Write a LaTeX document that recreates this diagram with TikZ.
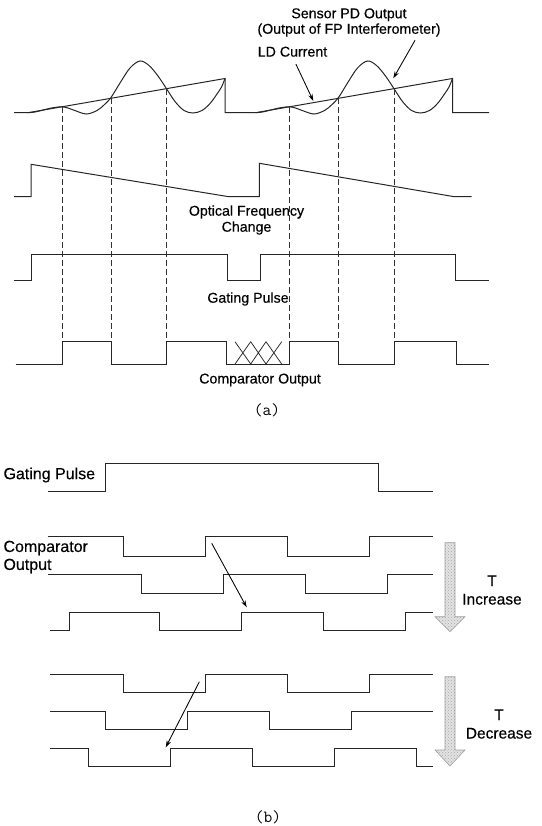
\documentclass[tikz,border=0pt]{standalone}
\usepackage{fontspec}
\setmainfont{Liberation Sans}[FakeBold=0.35]
\usetikzlibrary{arrows.meta,patterns}

\begin{document}
\begin{tikzpicture}[x=1pt,y=-1pt,
  wave/.style={line width=1pt,color=black!85},
  guide/.style={line width=0.75pt,color=black!80,dash pattern=on 6pt off 3pt},
  arr/.style={-{Stealth[length=7pt,width=4.5pt]},line width=0.85pt},
  lbla/.style={font=\fontsize{14.2}{15.5}\selectfont,align=center,inner sep=0pt},
  lblb/.style={font=\fontsize{16}{18}\selectfont,align=left,inner sep=0pt},
  lblt/.style={font=\fontsize{15.5}{18.5}\selectfont,align=center,inner sep=0pt},
  capt/.style={font=\ttfamily\fontsize{17}{17}\selectfont,inner sep=0pt},
  bigarrow/.style={draw=gray!75,line width=0.6pt,preaction={fill=gray!22},pattern=crosshatch dots,pattern color=gray!70}
]
\useasboundingbox (0,0) rectangle (541,826);

% ---- (a) LD current and sensor PD output
\draw[wave] (14,112.7) -- (28,112.7) -- (225,78.5) -- (225,112.7) -- (255.5,112.7)
  -- (452.5,78.5) -- (452.5,112.7) -- (489,112.7);
\foreach \s in {0,227.5}
  \draw[wave,xshift=\s] plot[smooth,tension=0.55] coordinates {
    (28,112.7) (35,112) (42,110.3) (50,108.3) (56,107.3) (62,106.8) (68,108)
    (75,110.6) (86.5,114) (97,110.5) (104,105) (111,97.5) (120,83) (130,68)
    (140,61) (149,65.5) (158,76) (166.5,88.7) (175,101.5) (184,110.5) (193,113)
    (202,110.5) (210,103.5) (217,94) (221.5,87) (225,78.5)};

% timing guides
\foreach \x/\y in {62/106.8,111/98.3,166.5/88.7,289.5/106.8,338.5/98.3,394/88.7}
  \draw[guide] (\x,\y) -- (\x,341.7);

% optical frequency change
\draw[wave] (14,196.7) -- (31,196.7) -- (31,164.3) -- (228.8,196.7) -- (259.4,196.7)
  -- (259.4,163.3) -- (454.2,196.7) -- (471.6,196.7);
% gating pulse
\draw[wave] (14,280) -| (31,254) -| (227,280) -| (260,254) -| (455.3,280) -- (489,280);
% comparator output
\draw[wave] (15.6,364) -| (62,341.7) -| (111,364) -| (166.5,341.7) -| (226,364)
  -| (289.5,341.7) -| (338.5,364) -| (394,341.7) -| (456,364) -- (489,364);
\foreach \a/\b in {235/250.7,250.7/266,266/281.7}
  \draw[wave,line width=0.75pt] (\a,341.7) -- (\b,364) (\a,364) -- (\b,341.7);

\node[lbla] (pdlbl) at (349,22.5) {Sensor PD Output\\(Output of FP Interferometer)};
\node[lbla] (ldlbl) at (292.5,51.7) {LD Current};
\coordinate (ldtip) at (313.3,101);
\coordinate (pdtip) at (393.3,78.3);
\draw[arr,shorten <=8pt] (ldlbl.south) -- (ldtip);
\draw[arr,shorten <=4pt] ([xshift=68pt]pdlbl.south) -- (pdtip);

\node[lbla,font=\fontsize{14.2}{16}\selectfont] (ofclbl) at (246.5,220) {Optical Frequency\\Change};
\node[lbla] (gatelbl) at (248,299) {Gating Pulse};
\node[lbla] (complbl) at (260,380) {Comparator Output};
\node[capt] (capa) at (267,410) {(a)};

% ---- (b) shift of comparator output with T
\draw[wave] (48,491) -| (105,463.3) -| (378,491) -- (433,491);
\node[lblb,anchor=west] (gatelblb) at (3.3,475) {Gating Pulse};
\node[lblb,anchor=west] (complblb) at (3.3,557) {Comparator\\Output};

% T increase
\draw[wave] (48,536.7) -| (123,556) -| (205,536.7) -| (287,556) -| (369,536.7) -- (433,536.7);
\draw[wave] (48,574.3) -| (141.2,593.3) -| (223.2,574.3) -| (305.2,593.3) -| (387.2,574.3) -- (433,574.3);
\draw[wave] (50,630.7) -| (69.3,612) -| (159.4,630.7) -| (241.4,612) -| (323.4,630.7) -| (405.4,612) -- (433,612);
\coordinate (incfrom) at (211.7,543.3);
\coordinate (inctip) at (246.7,607.3);
\draw[arr] (incfrom) -- (inctip);
\draw[bigarrow] (445,542.7) -- (455,542.7) -- (455,616.7) -- (465,616.7) -- (450,631.7)
  -- (435,616.7) -- (445,616.7) -- cycle;
\node[lblt] (tinc) at (492,590) {T\\Increase};

% T decrease
\draw[wave] (50,674.3) -| (123.5,692.7) -| (205.5,674.3) -| (287.5,692.7) -| (369.5,674.3) -- (433,674.3);
\draw[wave] (50,711) -| (105.5,729.3) -| (187.5,711) -| (269.5,729.3) -| (351.5,711) -- (433,711);
\draw[wave] (50,748.3) -| (88,766.7) -| (170,748.3) -| (252,766.7) -| (334,748.3) -| (416,766.7) -- (433,766.7);
\coordinate (decfrom) at (199.4,681.7);
\coordinate (dectip) at (165.7,747.3);
\draw[arr] (decfrom) -- (dectip);
\draw[bigarrow] (445,676.7) -- (455,676.7) -- (455,750) -- (465,750) -- (450,766)
  -- (435,750) -- (445,750) -- cycle;
\node[lblt] (tdec) at (499,724) {T\\Decrease};

\node[capt] (capb) at (268,817) {(b)};
\end{tikzpicture}
\end{document}
